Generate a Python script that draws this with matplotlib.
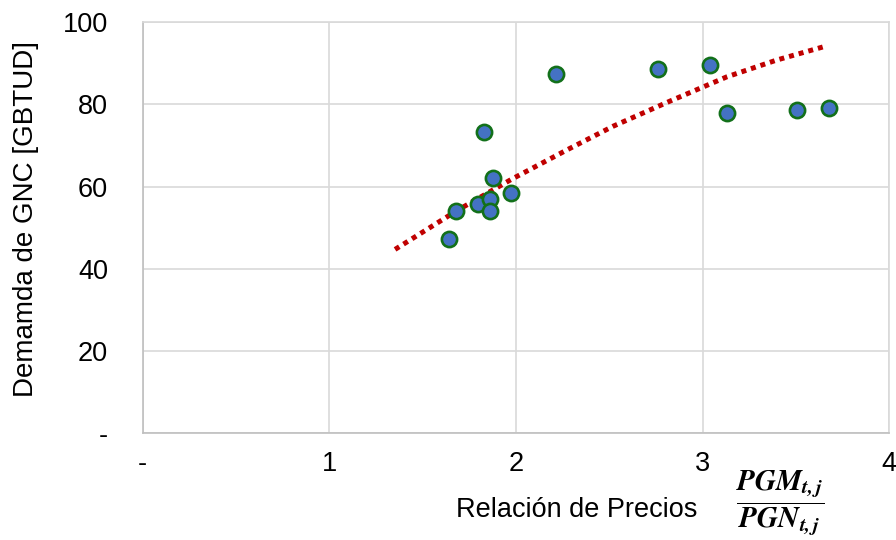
import matplotlib.pyplot as plt

plt.rcParams['font.family'] = ['Liberation Sans', 'DejaVu Sans']
plt.rcParams['mathtext.fontset'] = 'stix'

# price ratio PGM/PGN and GNC demand
ratio = [1.642, 1.677, 1.795, 1.861, 1.861, 1.876, 1.831, 1.974,
         2.215, 2.763, 3.041, 3.132, 3.504, 3.675]
demand = [47.2, 54.0, 55.8, 57.0, 54.1, 62.2, 73.4, 58.4,
          87.3, 88.5, 89.6, 77.8, 78.6, 79.1]

# trendline as drawn in the original
trend_x = [1.352, 1.682, 1.977, 2.272, 2.521, 2.825, 3.129, 3.397, 3.661]
trend_y = [44.7, 54.1, 61.8, 68.9, 74.7, 80.8, 86.7, 90.8, 94.2]

x_ticks = [0, 1, 2, 3, 4]
x_labels = ['-', '1', '2', '3', '4']
y_ticks = [0, 20, 40, 60, 80, 100]
y_labels = ['-', '20', '40', '60', '80', '100']

fig = plt.figure(figsize=(8.96, 5.40), dpi=100)
ax = fig.add_axes([0.1593, 0.1981, 0.8332, 0.7607])

ax.plot(trend_x, trend_y, color='#C00000', lw=3.6,
        linestyle=(0, (1, 1)), dash_capstyle='butt', zorder=3)

ax.scatter(ratio, demand, s=120, color='#4472C4', edgecolors='#12701A',
           linewidths=1.9, zorder=4)

ax.set_xlim(0, 4)
ax.set_ylim(0, 100)
ax.set_xticks(x_ticks, x_labels)
ax.set_yticks(y_ticks, y_labels)
ax.tick_params(length=0, labelsize=19.5)
ax.tick_params(axis='y', pad=25)
ax.tick_params(axis='x', pad=13)
ax.grid(True, color='#D9D9D9', lw=1.2)
ax.set_axisbelow(True)
for side in ['top', 'right']:
    ax.spines[side].set_color('#D9D9D9')
for side in ['left', 'bottom']:
    ax.spines[side].set_color('#BFBFBF')
for sp in ax.spines.values():
    sp.set_linewidth(1.2)

ax.set_ylabel('Demamda de GNC [GBTUD]', fontsize=20)
ax.yaxis.set_label_coords(-0.139, 0.52)
fig.text(0.778, 0.055, 'Relación de Precios', fontsize=19.5,
         ha='right', va='center')
fig.text(0.871, 0.07,
         r'$\dfrac{\mathbfit{PGM}_{\mathbfit{t,j}}}{\mathbfit{PGN}_{\mathbfit{t,j}}}$',
         fontsize=21, ha='center', va='center')

fig.savefig('out.png', dpi=100)
